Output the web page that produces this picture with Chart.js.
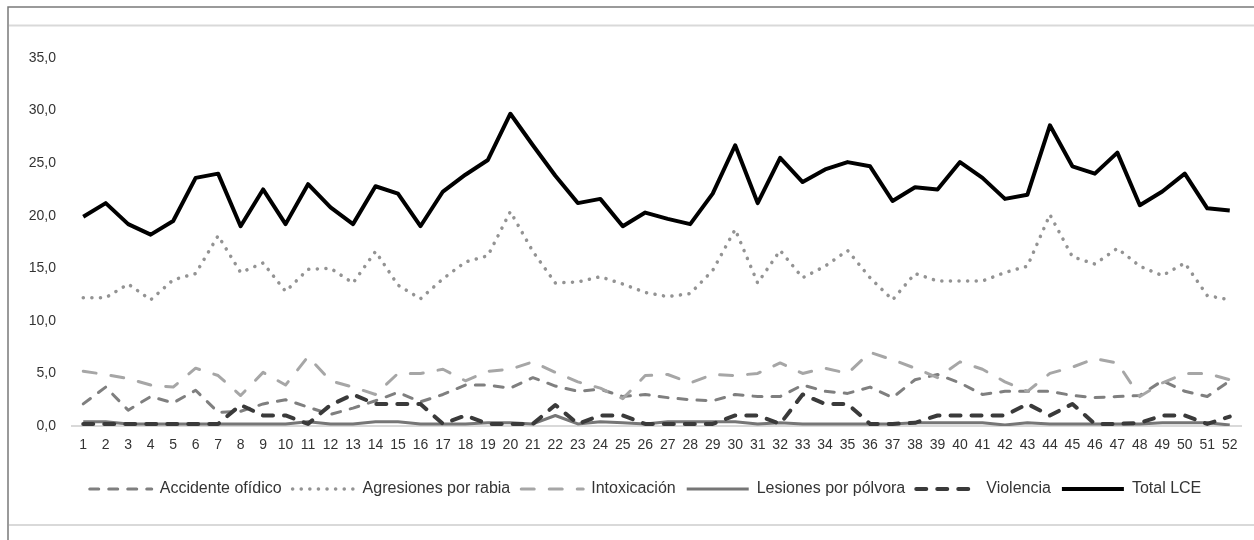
<!DOCTYPE html>
<html>
<head>
<meta charset="utf-8">
<script src="https://cdn.jsdelivr.net/npm/chart.js@4.4.1/dist/chart.umd.min.js"></script>
<style>
html,body{margin:0;padding:0;background:#fff;}
#wrap{width:1254px;height:540px;position:relative;}
</style>
</head>
<body>
<div id="wrap"><canvas id="c" width="1254" height="540"></canvas></div>
<script>
const weeks = Array.from({length:52},(_,i)=>String(i+1));
const yTicks = [0,5,10,15,20,25,30,35];

const accidenteOfidico = [2.1,3.7,1.5,2.8,2.2,3.4,1.3,1.4,2.1,2.5,1.8,1.1,1.7,2.4,3.2,2.3,3.0,3.9,3.9,3.6,4.6,3.8,3.3,3.5,2.8,3.0,2.7,2.5,2.4,3.0,2.8,2.8,3.9,3.3,3.1,3.7,2.7,4.4,4.9,4.1,3.0,3.3,3.3,3.3,2.9,2.7,2.8,2.9,4.3,3.3,2.8,4.3];
const agresionesRabia = [12.2,12.2,13.5,12.0,13.9,14.5,18.1,14.6,15.5,12.8,14.9,15.0,13.6,16.6,13.4,12.1,14.0,15.6,16.2,20.4,16.6,13.6,13.7,14.2,13.5,12.7,12.3,12.6,14.8,18.7,13.6,16.7,14.1,15.2,16.7,14.1,12.0,14.5,13.8,13.8,13.8,14.6,15.2,20.1,16.1,15.4,16.9,15.2,14.3,15.5,12.4,12.0];
const intoxicacion = [5.2,4.9,4.5,3.9,3.7,5.5,4.8,2.9,5.1,3.9,6.6,4.3,3.7,3.0,5.0,5.0,5.4,4.3,5.2,5.4,6.1,5.1,4.2,3.6,2.6,4.8,4.9,4.1,4.9,4.8,5.0,6.0,5.0,5.5,5.0,7.0,6.3,5.5,4.6,6.1,5.4,4.2,3.3,5.0,5.6,6.4,6.0,2.8,4.1,5.0,5.0,4.4];
const lesionesPolvora = [0.4,0.4,0.2,0.2,0.2,0.2,0.2,0.2,0.2,0.2,0.4,0.2,0.2,0.4,0.4,0.2,0.2,0.2,0.3,0.3,0.2,1.0,0.2,0.4,0.3,0.2,0.4,0.4,0.4,0.4,0.2,0.3,0.2,0.2,0.2,0.2,0.2,0.3,0.3,0.3,0.3,0.1,0.3,0.2,0.2,0.2,0.2,0.2,0.3,0.3,0.3,0.1];
const violencia = [0.2,0.2,0.2,0.2,0.2,0.2,0.2,2.0,1.0,1.0,0.2,2.0,3.0,2.1,2.1,2.1,0.2,1.0,0.2,0.2,0.2,2.0,0.2,1.0,1.0,0.2,0.2,0.2,0.2,1.0,1.0,0.2,3.0,2.1,2.1,0.2,0.2,0.3,1.0,1.0,1.0,1.0,2.1,1.0,2.1,0.2,0.2,0.3,1.0,1.0,0.2,0.9];
const totalLCE = [19.9,21.2,19.2,18.2,19.5,23.6,24.0,19.0,22.5,19.2,23.0,20.8,19.2,22.8,22.1,19.0,22.3,23.9,25.3,29.7,26.7,23.8,21.2,21.6,19.0,20.3,19.7,19.2,22.1,26.7,21.2,25.5,23.2,24.4,25.1,24.7,21.4,22.7,22.5,25.1,23.6,21.6,22.0,28.6,24.7,24.0,26.0,21.0,22.3,24.0,20.7,20.5];

const seriesNames = ['Accidente ofídico','Agresiones por rabia','Intoxicación','Lesiones por pólvora','Violencia','Total LCE'];
const seriesData = [accidenteOfidico, agresionesRabia, intoxicacion, lesionesPolvora, violencia, totalLCE];
const seriesColors = ['#7f7f7f','#939393','#a6a6a6','#767676','#3a3a3a','#000000'];
const seriesDash = [[9,10],[0.1,8.5],[13,15],[],[10,11],[]];
const seriesWidth = [3,3.5,3,3,4,4];

const FONT = "'Liberation Sans', Arial, sans-serif";

const framePlugin = {
  id:'frame',
  afterLayout(chart){
    const lg = chart.legend;
    if (lg) { lg.left += 25; lg.right += 25; }
  },
  beforeDraw(chart){
    const ctx = chart.ctx;
    ctx.save();
    ctx.fillStyle='#fff';
    ctx.fillRect(0,0,chart.width,chart.height);
    ctx.restore();
  },
  afterDraw(chart){
    const ctx = chart.ctx;
    ctx.save();
    ctx.strokeStyle='#d9d9d9';
    ctx.lineWidth=2;
    ctx.beginPath();
    ctx.moveTo(9,25.5); ctx.lineTo(1254,25.5);
    ctx.moveTo(9,525); ctx.lineTo(1254,525);
    ctx.stroke();
    ctx.strokeStyle='#7a7a7a';
    ctx.lineWidth=1.5;
    ctx.beginPath();
    ctx.moveTo(8,540); ctx.lineTo(8,7); ctx.lineTo(1254,7);
    ctx.stroke();
    ctx.restore();
  }
};

new Chart(document.getElementById('c'), {
  type:'line',
  data:{
    labels: weeks,
    datasets: seriesNames.map((n,i)=>({
      label:n,
      data:seriesData[i],
      borderColor:seriesColors[i],
      backgroundColor:seriesColors[i],
      borderWidth:seriesWidth[i],
      borderDash:seriesDash[i],
      borderCapStyle: seriesDash[i].length ? 'round' : 'butt',
      borderJoinStyle:'round',
      pointRadius:0,
      pointHoverRadius:0,
      tension:0,
      fill:false,
      order: 5-i
    }))
  },
  options:{
    responsive:false,
    animation:false,
    devicePixelRatio:1,
    layout:{padding:{left:0,right:13,top:58,bottom:33}},
    plugins:{
      tooltip:{enabled:false},
      legend:{
        position:'bottom',
        labels:{
          usePointStyle:true,
          pointStyle:'line',
          pointStyleWidth:62,
          padding:11,
          color:'#333',
          font:{family:FONT,size:16},
          generateLabels:(chart)=>chart.data.datasets.map((ds,i)=>({
            text:ds.label,
            datasetIndex:i,
            fillStyle:ds.borderColor,
            strokeStyle:ds.borderColor,
            lineWidth:ds.borderWidth,
            lineDash:ds.borderDash,
            lineCap:ds.borderCapStyle,
            pointStyle:'line',
            fontColor:'#333',
            hidden:false
          }))
        }
      }
    },
    scales:{
      x:{
        offset:true,
        grid:{display:false,drawTicks:false},
        border:{display:true,color:'#d9d9d9',width:2},
        ticks:{autoSkip:false,maxRotation:0,minRotation:0,padding:11,color:'#333',font:{family:FONT,size:14}},
        afterFit:(a)=>{a.height=44;}
      },
      y:{
        min:0,max:35,
        grid:{display:false,drawTicks:false},
        border:{display:false},
        afterBuildTicks:(a)=>{a.ticks = yTicks.map(v=>({value:v}));},
        ticks:{padding:16,color:'#333',font:{family:FONT,size:14},
          callback:(v)=>Number(v).toFixed(1).replace('.',',')},
        afterFit:(a)=>{a.width=72;}
      }
    }
  },
  plugins:[framePlugin]
});
</script>
</body>
</html>
